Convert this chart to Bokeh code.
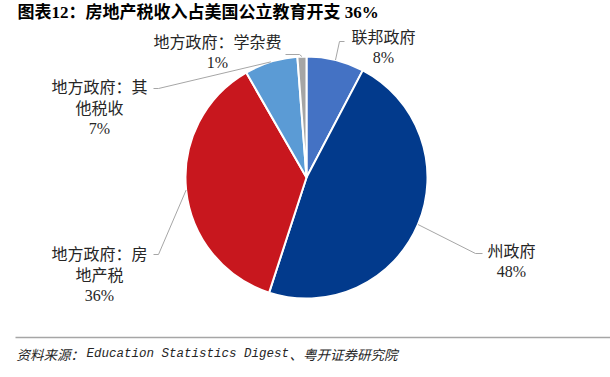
import math
import numpy as np
from bokeh.plotting import figure
from bokeh.models import Range1d, ColumnDataSource
from bokeh.core.properties import value
from bokeh.embed import file_html
from bokeh.resources import INLINE

# ---- data ----
categories = ["联邦政府", "州政府", "地方政府：房地产税", "地方政府：其他税收", "地方政府：学杂费"]
shares = [7.7, 47.3, 36.7, 7.1, 1.2]
pct_labels = ["8%", "48%", "36%", "7%", "1%"]
colors = ["#4472C4", "#023A8C", "#C8171E", "#5B9BD5", "#A5A5A5"]
title_text = "图表12：房地产税收入占美国公立教育开支 36%"
source_parts = ["资料来源：", "Education Statistics Digest", "、粤开证券研究院"]

# ---- layout (reference pixel coords; y converted below) ----
W, H = 610, 377
def Y(ry):
    return H - ry

cx, cy, r = 306, Y(177), 121
wrap = [4, 3, 6, 6, 8]
label_x = [383, 511, 99, 99, 217]
label_y0 = [35, 249, 252, 85, 40]
line_gap = 21.5
elbows = [[(339, 41), (344, 41)],
          [(475, 253), (482, 253)],
          [(158, 254), (153, 254)],
          [(158, 88), (153, 88)],
          [(299, 54), (285, 54)]]

LABEL_FONT = "Liberation Serif, Noto Sans CJK SC"
CJK_FONT = "Noto Sans CJK SC"

p = figure(width=W, height=H, x_range=Range1d(0, W), y_range=Range1d(0, H),
           output_backend="svg", toolbar_location=None, min_border=0,
           background_fill_color="white", border_fill_color="white")
p.axis.visible = False
p.grid.visible = False
p.outline_line_color = None

fr = np.array(shares) / sum(shares)
cum = np.concatenate([[0], np.cumsum(fr)])
start = math.pi / 2 - 2 * math.pi * cum[:-1]
end = math.pi / 2 - 2 * math.pi * cum[1:]
mid = math.pi / 2 - 2 * math.pi * (cum[:-1] + fr / 2)

src = ColumnDataSource(dict(cat=categories, start=start, end=end, color=colors))
p.wedge(x=cx, y=cy, radius=r, start_angle="start", end_angle="end", direction="clock",
        fill_color="color", line_color="white", line_width=2, source=src)

# leader lines
xs, ys = [], []
for i in range(len(categories)):
    ax = cx + r * math.cos(mid[i])
    ay = cy + r * math.sin(mid[i])
    pts = [(ax, ay)] + [(ex, Y(ey)) for ex, ey in elbows[i]]
    xs.append([q[0] for q in pts])
    ys.append([q[1] for q in pts])
p.multi_line(xs=xs, ys=ys, line_color="#A6A6A6", line_width=1)

# labels: category name lines (CJK) and percentage lines (serif digits)
nx, ny, nt = [], [], []
px, py, pt = [], [], []
for i, cat in enumerate(categories):
    lines = [cat[k:k + wrap[i]] for k in range(0, len(cat), wrap[i])]
    for j, ln in enumerate(lines):
        nx.append(label_x[i])
        ny.append(Y(label_y0[i] + j * line_gap))
        nt.append(ln)
    px.append(label_x[i])
    py.append(Y(label_y0[i] + len(lines) * line_gap))
    pt.append(pct_labels[i])
p.text(x=nx, y=ny, text=nt, text_align="center", text_baseline="middle",
       text_font=value(CJK_FONT), text_font_size="16px", text_color="#262626")
p.text(x=px, y=py, text=pt, text_align="center", text_baseline="middle",
       text_font=value("Liberation Serif"), text_font_size="16px", text_color="#262626")

# title
p.text(x=[17], y=[Y(12)], text=[title_text], text_align="left", text_baseline="middle",
       text_font=value(LABEL_FONT), text_font_size="17px", text_font_style="bold",
       text_color="#000000")

# footer rule and source
p.line(x=[15, 610], y=[Y(337), Y(337)], line_color="#A6A6A6", line_width=1.5)
fy = Y(353)
p.text(x=[16], y=[fy], text=[source_parts[0]], text_align="left", text_baseline="middle",
       text_font=value(CJK_FONT), text_font_size="13.5px", text_font_style="italic",
       text_color="#262626")
p.text(x=[86], y=[fy], text=[source_parts[1]], text_align="left", text_baseline="middle",
       text_font=value("Liberation Mono"), text_font_size="12.5px", text_font_style="italic",
       text_color="#262626")
p.text(x=[289], y=[fy], text=[source_parts[2]], text_align="left", text_baseline="middle",
       text_font=value(CJK_FONT), text_font_size="13.5px", text_font_style="italic",
       text_color="#262626")

open("out.html", "w").write(file_html(p, INLINE))
